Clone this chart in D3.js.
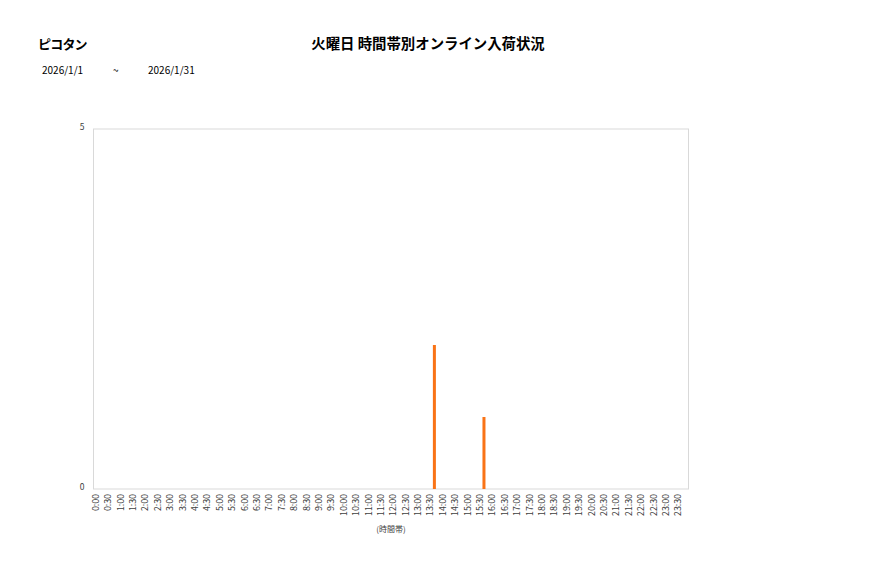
<!DOCTYPE html>
<html><head><meta charset="utf-8">
<script src="https://cdn.jsdelivr.net/npm/d3@7"></script>
<style>body{margin:0;background:#fff}</style>
</head><body>
<script>
const storeName = "ピコタン";
const chartTitle = "火曜日 時間帯別オンライン入荷状況";
const dateFrom = "2026/1/1";
const dateSep = "~";
const dateTo = "2026/1/31";
const xAxisTitle = "(時間帯)";
const timeSlots = [];
for (let h = 0; h < 24; h++) { timeSlots.push(h + ":00"); timeSlots.push(h + ":30"); }
const arrivals = [0,0,0,0,0,0,0,0,0,0,0,0,0,0,0,0,0,0,0,0,0,0,0,0,0,0,0,2,0,0,0,1,0,0,0,0,0,0,0,0,0,0,0,0,0,0,0,0];
const yTicks = [0, 5];

const W = 877, H = 578;
const font = "'Noto Sans CJK JP','Noto Sans',sans-serif";
const svg = d3.select("body").append("svg").attr("width", W).attr("height", H);

svg.append("text").attr("x", 38).attr("y", 49).text(storeName)
  .style("font-family", font).style("font-size", "13px").style("letter-spacing", "-0.8px").style("font-weight", "bold").attr("fill", "#000");
svg.append("text").attr("x", 428).attr("y", 49).attr("text-anchor", "middle").text(chartTitle)
  .style("font-family", font).style("font-size", "14.4px").style("font-weight", "bold").attr("fill", "#000");
const dateStyle = s => s.style("font-family", font).style("font-size", "10px").attr("fill", "#000");
dateStyle(svg.append("text").attr("x", 42).attr("y", 74).text(dateFrom));
dateStyle(svg.append("text").attr("x", 113).attr("y", 74).text(dateSep));
dateStyle(svg.append("text").attr("x", 148).attr("y", 74).text(dateTo));

const L = 93.5, R = 688.5, T = 129, B = 489;
const x = d3.scaleBand().domain(timeSlots).range([L, R]);
const y = d3.scaleLinear().domain([0, 5]).range([B, T]);

svg.append("rect").attr("x", L).attr("y", T).attr("width", R - L).attr("height", B - T)
  .attr("fill", "none").attr("stroke", "#d9d9d9").attr("stroke-width", 1);

const bw = 3;
svg.append("g").selectAll("rect").data(timeSlots.map((t, i) => ({t, v: arrivals[i]})).filter(d => d.v > 0))
  .join("rect")
  .attr("x", d => x(d.t) + x.bandwidth() / 2 - bw / 2)
  .attr("y", d => y(d.v))
  .attr("width", bw)
  .attr("height", d => y(0) - y(d.v))
  .attr("fill", "#f97316");

const yAxis = svg.append("g").attr("transform", `translate(${L},0)`)
  .call(d3.axisLeft(y).tickValues(yTicks).tickSize(0).tickPadding(9).tickFormat(d3.format("d")));
yAxis.select(".domain").remove();
yAxis.selectAll("text").style("font-family", font).style("font-size", "8.5px").attr("fill", "#404040").attr("dy", "0.1em");

const xAxis = svg.append("g").attr("transform", `translate(0,${B})`)
  .call(d3.axisBottom(x).tickSize(0).tickPadding(0));
xAxis.select(".domain").remove();
xAxis.selectAll("text")
  .style("font-family", font).style("font-size", "8.8px").attr("fill", "#404040")
  .attr("text-anchor", "end")
  .attr("transform", "rotate(-90)")
  .attr("x", -5).attr("y", -4).attr("dy", "0.35em").attr("dx", "0");

svg.append("text").attr("x", 391).attr("y", 532).attr("text-anchor", "middle").text(xAxisTitle)
  .style("font-family", font).style("font-size", "8px").attr("fill", "#404040");
</script>
</body></html>
